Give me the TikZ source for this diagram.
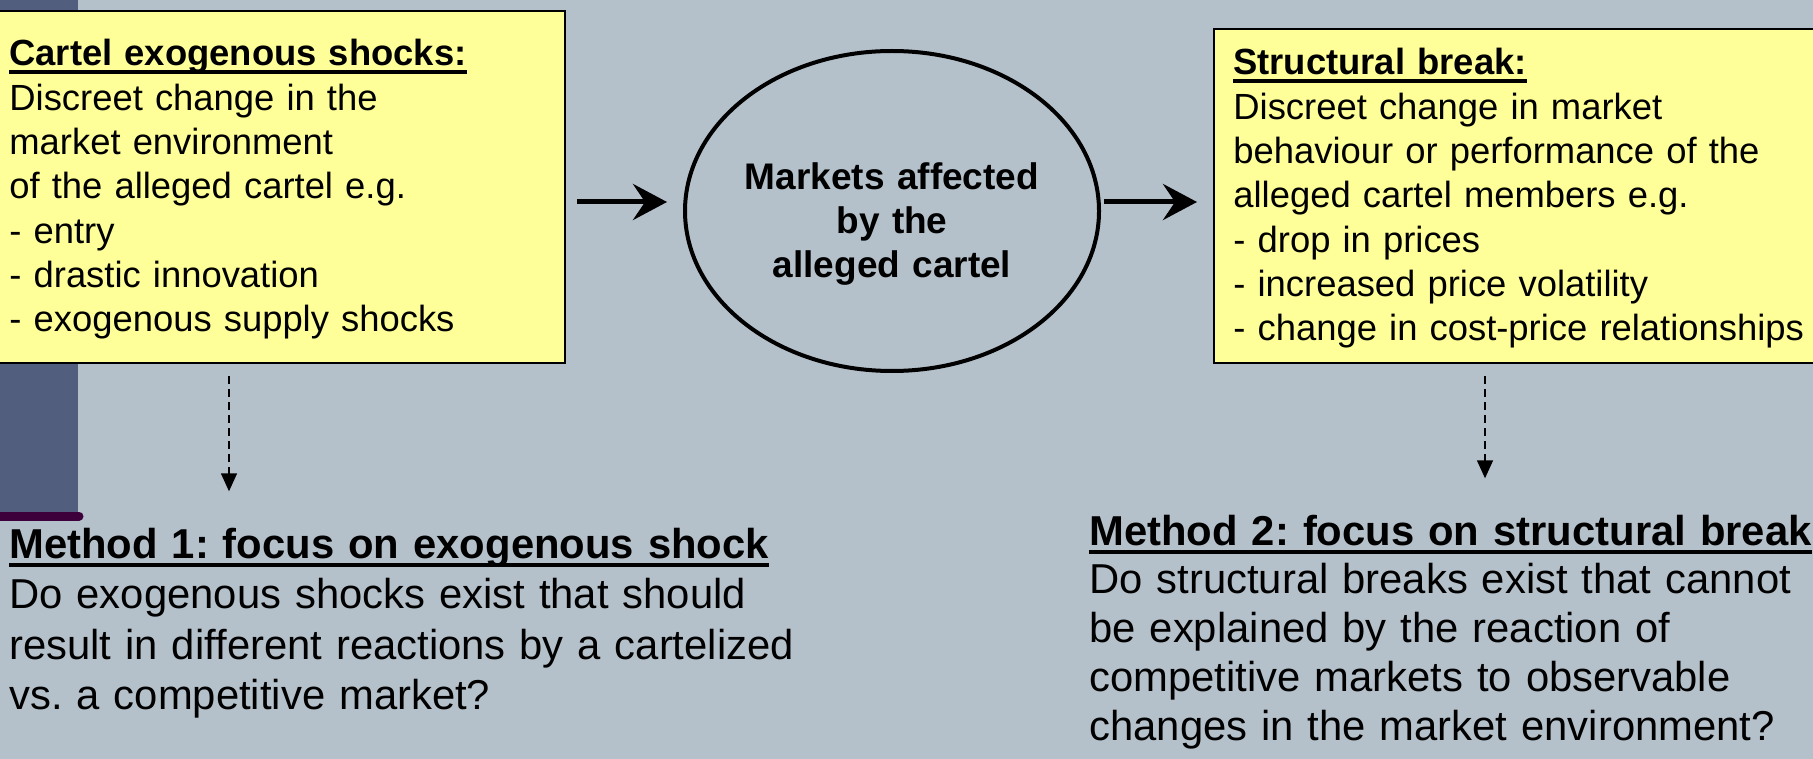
\documentclass[tikz,border=0pt]{standalone}
\usepackage{fontspec}
\setmainfont{Liberation Sans}
\usetikzlibrary{arrows.meta,shapes.geometric}
\frenchspacing
\definecolor{slidebg}{HTML}{B5C1CA}
\definecolor{notefill}{HTML}{FFFF99}
\definecolor{sidebar}{HTML}{525E7E}
\definecolor{sideline}{HTML}{3D003A}
\newcommand{\hdr}[1]{\setbox0\hbox{\bfseries #1}\rlap{\rule[-0.21em]{\wd0}{0.09em}}\box0}

\begin{document}
\begin{tikzpicture}[x=0.5pt, y=-0.5pt,
  notebox/.style={draw, line width=1pt, fill=notefill, anchor=north west, inner sep=0pt},
  boxtext/.style={font=\fontsize{18.2}{22.15}\selectfont, text width=300pt, align=left, anchor=base west, inner sep=0pt},
  methtext/.style={font=\fontsize{20.9}{25.3}\selectfont, text width=400pt, align=left, anchor=base west, inner sep=0pt},
  fatarrow/.style={line width=2.5pt, -{Stealth[length=17pt, width=18pt, inset=6pt]}},
  dasharrow/.style={line width=0.7pt, dash pattern=on 4pt off 2.5pt, -{Triangle[length=9pt, width=8pt]}}]
\useasboundingbox (0,0) rectangle (1813,759);
\fill[slidebg] (0,0) rectangle (1813,759);
\fill[sidebar] (0,0) rectangle (78,512);
\draw[sideline, line width=4.5pt, line cap=round] (0,516) -- (79,516);

\node[notebox, minimum width=284.5pt, minimum height=176pt] (lbox) at (-5,10) {};
\node[notebox, minimum width=310pt, minimum height=167pt] (rbox) at (1213,28) {};
\node[draw, ellipse, line width=2pt, minimum width=207pt, minimum height=160pt, inner sep=0pt] (mkt) at (892,211) {};

\node[boxtext] (ltxt) at (9,66) {\hdr{Cartel exogenous shocks:}\\Discreet change in the\\market environment\\of the alleged cartel e.g.\\- entry\\- drastic innovation\\- exogenous supply shocks};
\node[boxtext] (rtxt) at (1233,75) {\hdr{Structural break:}\\Discreet change in market\\behaviour or performance of the\\alleged cartel members e.g.\\- drop in prices\\- increased price volatility\\- change in cost-price relationships};
\node[font=\fontsize{18.5}{22}\selectfont\bfseries, text width=180pt, align=center, anchor=base, inner sep=0pt] (mtxt) at (892,190) {Markets affected\\by the\\alleged cartel};

\node[methtext] (m1) at (9,558) {\hdr{Method 1: focus on exogenous shock}\\Do exogenous shocks exist that should\\result in different reactions by a cartelized\\vs. a competitive market?};
\node[methtext, font=\fontsize{20.9}{24.4}\selectfont] (m2) at (1089,545) {\hdr{Method 2: focus on structural break}\\Do structural breaks exist that cannot\\be explained by the reaction of\\competitive markets to observable\\changes in the market environment?};

\coordinate (ay) at (0,202);
\coordinate (c1) at (229,0);
\coordinate (c2) at (1485,0);
\draw[fatarrow, shorten <=5.5pt, shorten >=8pt] (lbox.east |- ay) -- (mkt.west |- ay);
\draw[fatarrow, shorten <=1.5pt, shorten >=8pt] (mkt.east |- ay) -- (rbox.west |- ay);
\draw[dasharrow, shorten <=6pt, shorten >=18pt] (lbox.south -| c1) -- (m1.north -| c1);
\draw[dasharrow, shorten <=6pt, shorten >=18pt] (rbox.south -| c2) -- (m2.north -| c2);
\end{tikzpicture}
\end{document}
